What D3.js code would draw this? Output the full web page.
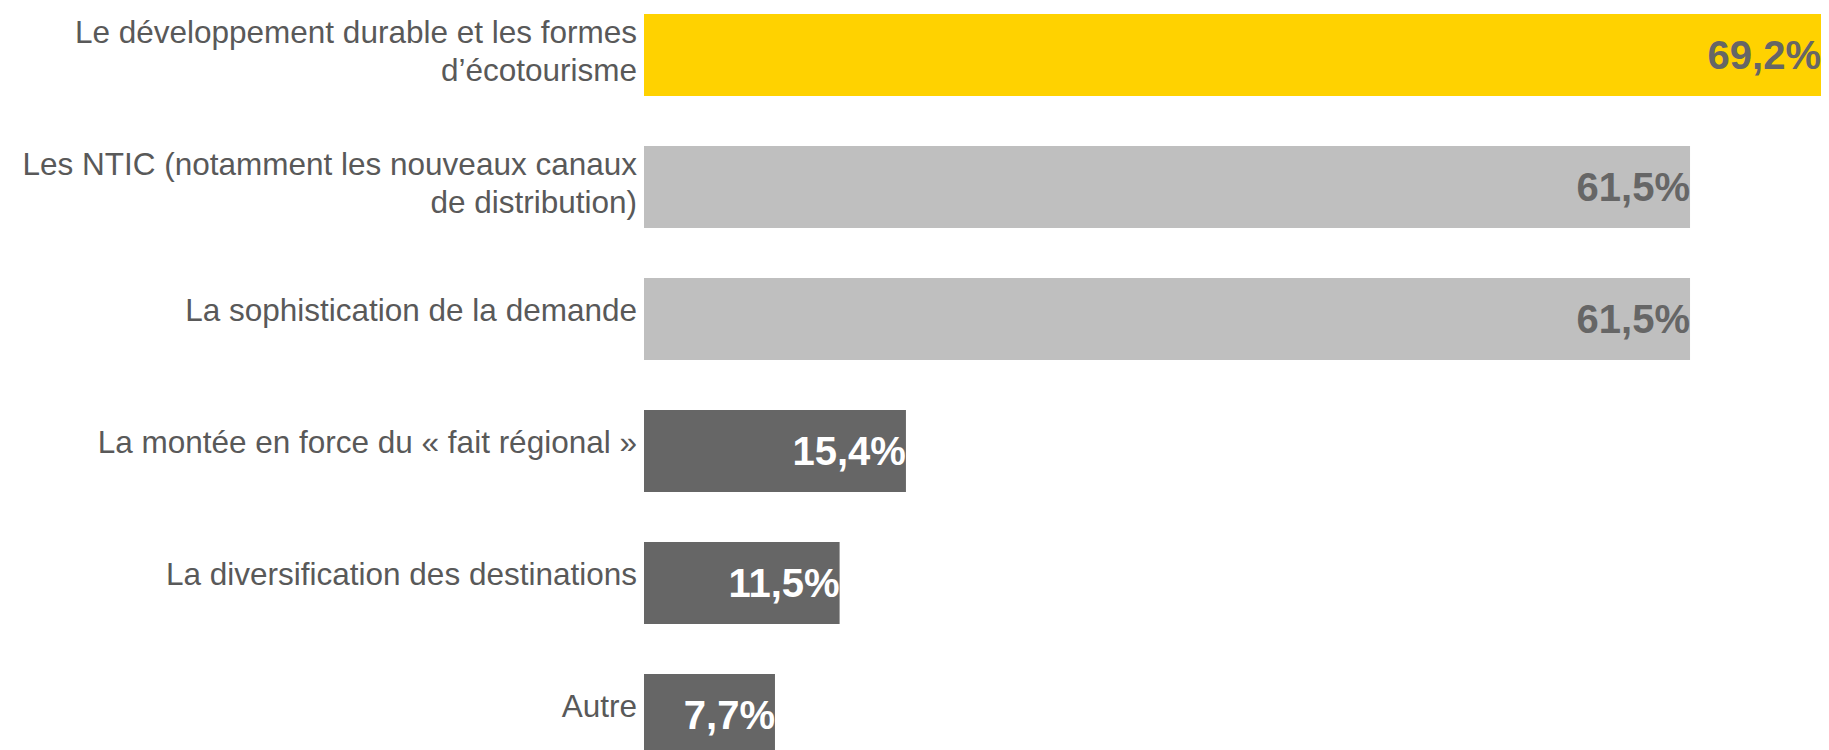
<!DOCTYPE html>
<html>
<head>
<meta charset="utf-8">
<script src="https://cdn.jsdelivr.net/npm/d3@7"></script>
<style>
  html, body { margin: 0; padding: 0; background: #ffffff; }
  svg { display: block; }
</style>
</head>
<body>
<svg id="chart" width="1829" height="750"></svg>
<script>
// ---- Data ----
const categories = [
  ["Le développement durable et les formes", "d’écotourisme"],
  ["Les NTIC (notamment les nouveaux canaux", "de distribution)"],
  ["La sophistication de la demande"],
  ["La montée en force du « fait régional »"],
  ["La diversification des destinations"],
  ["Autre"]
];
const values = [69.2, 61.5, 61.5, 15.4, 11.5, 7.7];
const valueLabels = ["69,2%", "61,5%", "61,5%", "15,4%", "11,5%", "7,7%"];
const groups = ["top", "mid", "mid", "low", "low", "low"];

// ---- Styles ----
const barColor = d3.scaleOrdinal().domain(["top", "mid", "low"]).range(["#FFD200", "#BFBFBF", "#666666"]);
const valueColor = d3.scaleOrdinal().domain(["top", "mid", "low"]).range(["#666666", "#666666", "#FFFFFF"]);

const svg = d3.select("#chart");
const ids = categories.map((c, i) => i);

const x = d3.scaleLinear().domain([0, d3.max(values)]).range([644, 1821]);
const y = d3.scaleBand().domain(ids).range([14, 756]).paddingInner(50 / 132).paddingOuter(0);

// Bars
svg.append("g").selectAll("rect")
  .data(ids)
  .join("rect")
  .attr("x", x(0))
  .attr("y", i => y(i))
  .attr("width", i => x(values[i]) - x(0))
  .attr("height", y.bandwidth())
  .attr("fill", i => barColor(groups[i]));

// Category labels
const lineH = 37.5;
const lab = svg.append("g").selectAll("text")
  .data(ids)
  .join("text")
  .attr("text-anchor", "end")
  .attr("font-family", "'Liberation Sans', Arial, sans-serif")
  .attr("font-size", 31.5)
  .attr("fill", "#595959");
lab.each(function(i) {
  const lines = categories[i];
  const n = lines.length;
  const c = y(i) + y.bandwidth() / 2;
  const first = c + 2 - (n - 1) * 14;
  d3.select(this).selectAll("tspan")
    .data(lines)
    .join("tspan")
    .attr("x", x(0) - 7)
    .attr("y", (d, k) => first + k * lineH)
    .text(d => d);
});

// Value labels
svg.append("g").selectAll("text")
  .data(ids)
  .join("text")
  .attr("x", i => x(values[i]))
  .attr("y", i => y(i) + y.bandwidth() / 2 + 14)
  .attr("text-anchor", "end")
  .attr("font-family", "'Liberation Sans', Arial, sans-serif")
  .attr("font-weight", "bold")
  .attr("font-size", 40)
  .attr("fill", i => valueColor(groups[i]))
  .text(i => valueLabels[i]);
</script>
</body>
</html>
